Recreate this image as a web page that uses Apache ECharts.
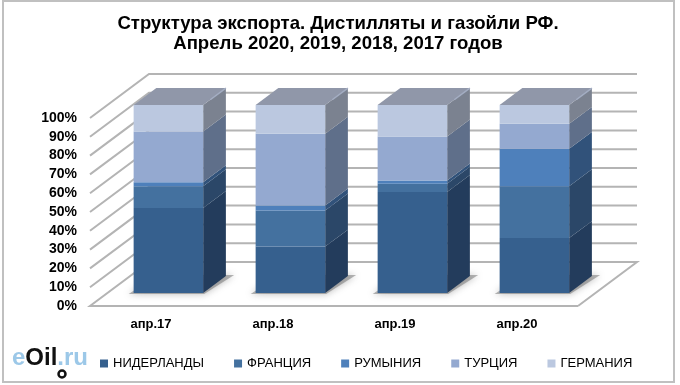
<!DOCTYPE html>
<html>
<head>
<meta charset="utf-8">
<style>
html,body{margin:0;padding:0;background:#fff;}
#main{width:680px;height:385px;}
</style>
<script src="https://cdn.jsdelivr.net/npm/echarts@6/dist/echarts.min.js"></script>
</head>
<body>
<div id="main"></div>
<script>
var categories = ['апр.17','апр.18','апр.19','апр.20'];
var ticks = [0,10,20,30,40,50,60,70,80,90,100];
var netherlands = [45.2, 24.7, 53.8, 29.2];
var france = [11.6, 19.2, 4.3, 27.6];
var romania = [2.1, 2.7, 1.8, 19.9];
var turkey = [27.0, 38.1, 23.4, 13.3];
var germany = [14.1, 15.3, 16.7, 10.0];

var names = ['НИДЕРЛАНДЫ','ФРАНЦИЯ','РУМЫНИЯ','ТУРЦИЯ','ГЕРМАНИЯ'];
var values = [netherlands, france, romania, turkey, germany];
var frontColors = ['#36608e','#44719f','#4e80bb','#94a9d0','#bbc8e0'];
var sideColors = ['#233c5c','#2b4768','#31527a','#5f6f8a','#7b8290'];

// глубина 3d: проекция от передней плоскости к задней стенке
var depthX = 59, depthY = -44;
var barFront = 0.295, barBack = 0.68, barShare = 0.57;

function shift(p, d){
    return [p[0] + d * depthX, p[1] + d * depthY];
}

function renderWalls(params, api){
    var v = api.value(0);
    var cs = params.coordSys;
    var y = api.coord([0, v])[1];
    var a = [cs.x, y], b = shift(a, 1), c = [cs.x + cs.width + depthX, y + depthY];
    var pts = v === 0 ? [[cs.x + cs.width, y], a, b, c, [cs.x + cs.width, y]] : [a, b, c];
    return {
        type:'polyline',
        shape:{points:pts},
        style:{stroke:'#b4b4b4', lineWidth:2, fill:null}
    };
}

function renderShadow(params, api){
    var base = api.coord([api.value(0), 0]);
    var w = api.size([1,0])[0] * barShare;
    var x0 = base[0] - w / 2, x1 = base[0] + w / 2;
    var f = shift(base, barFront)[1] + 1;
    var dx = barFront * depthX;
    return {
        type:'polygon',
        shape:{points:[
            [x0 + dx - 5, f],
            [x1 + dx + 1, f],
            [x1 + dx + 31, f - 19],
            [x0 + dx + 24, f - 19]
        ]},
        style:{fill:'rgba(120,120,120,0.55)', shadowBlur:7, shadowColor:'rgba(120,120,120,0.9)'}
    };
}

function makeBarRender(side, isTop){
    return function(params, api){
        var cat = api.value(0);
        var w = api.size([1,0])[0] * barShare;
        var low = api.coord([cat, api.value(1)]);
        var high = api.coord([cat, api.value(2)]);
        var lf = [low[0] - w / 2, low[1]], rf = [low[0] + w / 2, low[1]];
        var lh = [low[0] - w / 2, high[1]], rh = [low[0] + w / 2, high[1]];
        var children = [
            {
                type:'polygon',
                shape:{points:[shift(rf,barFront), shift(rf,barBack), shift(rh,barBack), shift(rh,barFront)]},
                style:{fill:side}
            },
            {
                type:'polygon',
                shape:{points:[shift(lf,barFront), shift(rf,barFront), shift(rh,barFront), shift(lh,barFront)]},
                style:{fill:api.visual('color')}
            }
        ];
        if (isTop) {
            children.push({
                type:'polygon',
                shape:{points:[shift(lh,barFront), shift(rh,barFront), shift(rh,barBack), shift(lh,barBack)]},
                style:{fill:'#9097a9'}
            });
            // светлая грань сверху справа
            children.push({
                type:'polyline',
                shape:{points:[shift(rh,barFront + 0.12), shift(rh,barBack)]},
                style:{stroke:'#a3adc2', lineWidth:1.5, fill:null}
            });
        }
        return {type:'group', children:children};
    };
}

var wallData = ticks.map(function(t){ return [t]; });
var shadowData = categories.map(function(c, i){ return [i]; });

var series = [
    {
        type:'custom',
        silent:true,
        z:1,
        renderItem:renderWalls,
        encode:{y:0},
        data:wallData
    },
    {
        type:'custom',
        silent:true,
        z:2,
        renderItem:renderShadow,
        encode:{x:0},
        data:shadowData
    }
];

var running = categories.map(function(){ return 0; });
names.forEach(function(name, k){
    var rows = values[k].map(function(v, i){
        var row = [i, running[i], running[i] + v];
        running[i] += v;
        return row;
    });
    series.push({
        name:name,
        type:'custom',
        z:3,
        itemStyle:{color:frontColors[k]},
        renderItem:makeBarRender(sideColors[k], k === names.length - 1),
        encode:{x:0, y:[1,2]},
        data:rows
    });
});

var chart = echarts.init(document.getElementById('main'));

var option = {
    animation:false,
    backgroundColor:'#fff',
    title:{
        text:'Структура экспорта. Дистилляты и газойли РФ.\nАпрель 2020, 2019, 2018, 2017 годов',
        left:333,
        top:9,
        textAlign:'center',
        textStyle:{
            fontFamily:'Liberation Sans',
            fontSize:18.6,
            fontWeight:'bold',
            lineHeight:20,
            color:'#000'
        }
    },
    legend:{
        data:names,
        left:95,
        top:352,
        icon:'rect',
        itemWidth:8,
        itemHeight:8,
        itemGap:30,
        textStyle:{
            fontFamily:'Liberation Sans',
            fontSize:13,
            color:'#000'
        }
    },
    grid:{
        left:90,
        right:102,
        top:118,
        bottom:79
    },
    xAxis:{
        type:'category',
        data:categories,
        axisLine:{show:false},
        axisTick:{show:false},
        axisLabel:{
            fontFamily:'Liberation Sans',
            fontSize:13,
            fontWeight:'bold',
            color:'#000',
            margin:12
        }
    },
    yAxis:{
        type:'value',
        min:0,
        max:100,
        interval:10,
        axisLine:{show:false},
        axisTick:{show:false},
        splitLine:{show:false},
        axisLabel:{
            fontFamily:'Liberation Sans',
            fontSize:14,
            fontWeight:'bold',
            color:'#000',
            margin:13,
            padding:[8,0,0,0],
            formatter:'{value}%'
        }
    },
    graphic:[
        {
            type:'rect',
            shape:{x:3, y:1, width:671, height:381},
            style:{fill:null, stroke:'#c0c0c0', lineWidth:2},
            z:0
        },
        {
            type:'text',
            left:12,
            top:346,
            style:{
                text:'{a|e}{b|Oil}{a|.ru}',
                rich:{
                    a:{fontFamily:'Liberation Sans', fontSize:24, fontWeight:'bold', fill:'#9cc8e8'},
                    b:{fontFamily:'Liberation Sans', fontSize:24, fontWeight:'bold', fill:'#111'}
                }
            }
        },
        {
            type:'circle',
            shape:{cx:62, cy:374, r:3.5},
            style:{fill:'#fff', stroke:'#111', lineWidth:2.5}
        }
    ],
    series:series
};

chart.setOption(option);
</script>
</body>
</html>
